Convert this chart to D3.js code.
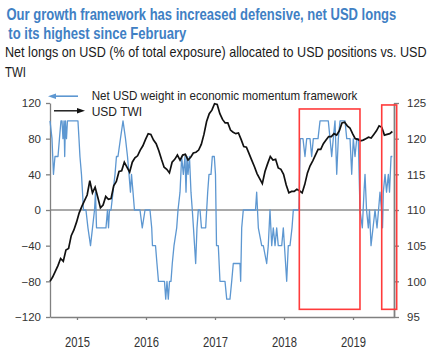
<!DOCTYPE html>
<html><head><meta charset="utf-8">
<script src="https://cdn.jsdelivr.net/npm/d3@7"></script>
<style>
body{margin:0;background:#fff;}
svg{display:block;font-family:"Liberation Sans",Arial,sans-serif;}
</style>
</head><body>
<svg id="c" width="434" height="355"></svg>
<script>
// ---- data ----
const yearTicks = [2015, 2016, 2017, 2018, 2019];
const leftTicks = [-120, -80, -40, 0, 40, 80, 120];
const rightTicks = [95, 100, 105, 110, 115, 120, 125];

const seriesNames = ["Net USD weight in economic momentum framework", "USD TWI"];

// Net USD weight (left axis), decimal-year time stamps
const netUsdTime = [
 2014.609,2014.638,2014.659,2014.681,2014.725,2014.746,2014.768,2014.783,2014.797,2014.812,
 2014.822,2014.833,2014.848,2014.862,2015.014,2015.029,2015.043,2015.065,2015.080,2015.094,
 2015.130,2015.159,2015.196,2015.225,2015.254,2015.268,2015.283,2015.420,2015.442,2015.457,
 2015.471,2015.493,2015.522,2015.551,2015.572,2015.594,2015.630,2015.667,2015.703,2015.732,
 2015.754,2015.775,2015.790,2015.812,2015.833,2015.913,2015.946,2015.986,2016.058,2016.083,
 2016.094,2016.138,2016.159,2016.181,2016.268,2016.286,2016.304,2016.323,2016.341,2016.362,
 2016.381,2016.406,2016.445,2016.464,2016.493,2016.517,2016.541,2016.565,2016.580,2016.594,
 2016.609,2016.630,2016.652,2016.671,2016.688,2016.720,2016.739,2016.758,2016.783,2016.804,
 2016.865,2016.894,2016.913,2016.942,2016.961,2016.990,2017.007,2017.022,2017.048,2017.072,
 2017.145,2017.170,2017.217,2017.242,2017.265,2017.362,2017.372,2017.387,2017.410,2017.587,
 2017.604,2017.616,2017.628,2017.677,2017.700,2017.749,2017.772,2017.797,2017.822,2017.845,
 2017.870,2017.894,2017.917,2017.967,2017.990,2018.039,2018.062,2018.087,2018.116,2018.135,
 2018.217,2018.236,2018.275,2018.304,2018.329,2018.377,2018.401,2018.425,2018.493,2018.522,
 2018.642,2018.667,2018.691,2018.714,2018.739,2018.764,2018.787,2018.812,2018.884,2018.909,
 2018.957,2018.981,2019.004,2019.029,2019.054,2019.077,2019.101,2019.135,2019.159,2019.174,
 2019.196,2019.222,2019.239,2019.261,2019.290,2019.319,2019.348,2019.370,2019.391,2019.413,
 2019.428,2019.439,2019.464,2019.486,2019.512,2019.529,2019.551,2019.570
];
const netUsdValue = [
 100,80,40,60,60,80,100,100,80,100,
 60,100,80,100,100,80,60,40,20,0,
 0,-20,-40,-20,0,20,-20,-20,0,-20,
 0,0,20,40,60,60,80,100,80,60,
 40,20,40,20,0,0,-20,0,0,-20,
 -40,-40,-60,-80,-80,-100,-80,-100,-80,-80,
 -60,-40,-20,0,20,60,40,60,20,60,
 40,60,20,0,-20,-60,-20,0,0,-20,
 -20,20,40,40,60,60,40,-40,-40,-80,
 -80,-100,-100,-80,-60,-60,-80,-20,0,0,
 20,0,-20,-40,-40,-60,-40,0,-40,-20,
 -40,-20,-40,-40,-20,-80,-40,-40,-20,0,
 0,80,80,60,80,80,60,80,80,100,
 100,80,60,80,100,40,80,100,100,80,
 80,40,80,60,80,80,0,-20,20,40,
 0,-20,0,-40,-20,0,-20,0,20,0,
 -20,20,40,20,40,20,60,60
];

// USD TWI (right axis), sampled every two weeks from twiStart
const twiStart = 2014.609;
const twiStep = 1 / 26;
const twiValue = [
 100.0,100.6,101.4,102.2,103.2,102.8,104.4,104.6,106.4,107.2,
 108.3,109.6,110.5,111.3,112.1,114.1,112.4,113.2,111.8,110.3,
 110.7,111.9,111.5,111.6,113.4,114.0,115.4,115.5,116.7,116.0,
 115.3,116.7,117.3,117.6,118.4,119.0,119.9,120.7,120.6,119.8,
 119.3,118.3,117.1,116.0,115.7,115.2,116.7,117.1,117.7,117.0,
 117.7,117.8,117.0,117.4,118.0,118.1,118.4,119.2,120.6,122.4,
 123.5,124.0,124.9,124.8,123.5,122.7,122.2,122.2,121.2,120.9,
 120.7,120.8,119.9,118.9,118.8,117.9,117.0,116.1,115.1,114.4,
 113.7,115.4,116.5,117.5,117.0,117.1,115.9,115.7,115.0,113.5,
 112.4,112.6,112.6,112.9,112.7,112.4,113.6,115.2,116.2,116.9,
 117.7,118.5,118.5,119.3,119.8,120.3,120.3,120.7,120.5,121.1,
 122.2,122.3,121.8,121.5,120.7,120.0,119.9,119.7,119.8,120.0,
 120.2,120.1,120.6,121.1,121.8,121.6,120.5,120.6,120.7,121.0
];

// Highlight boxes (time range, left-axis value range)
const boxStart = [2018.222, 2019.416];
const boxEnd = [2019.101, 2019.633];
const boxTop = [113.3, 117.8];
const boxBottom = [-111.4, -111.4];

const zeroLineEnd = 2019.52;

// ---- drawing ----
const svg = d3.select("#c");
const BLUE = "#5d97d1";
const AXIS = "#808080";

const x = d3.scaleLinear().domain([2014.609, 2019.594]).range([50, 394]);
const yL = d3.scaleLinear().domain([-120, 120]).range([317, 103]);
const yR = d3.scaleLinear().domain([95, 125]).range([317, 103]);

// compress a text horizontally to a target width (the reference font is condensed)
function fitText(t, px, py, width) {
  const w = t.node().getComputedTextLength();
  const s = Math.min(1, width / w);
  t.attr("x", 0).attr("y", 0).attr("transform", `translate(${px},${py}) scale(${s},1)`);
}

// titles
const t1 = svg.append("text").attr("font-size", 16).attr("font-weight", "bold").attr("fill", "#4080c4")
  .text("Our growth framework has increased defensive, net USD longs");
fitText(t1, 6.5, 19.8, 390);
const t2 = svg.append("text").attr("font-size", 16).attr("font-weight", "bold").attr("fill", "#4080c4")
  .text("to its highest since February");
fitText(t2, 8.3, 38.5, 178);
const s1 = svg.append("text").attr("font-size", 14).attr("fill", "#1a1a1a")
  .text("Net longs on USD (% of total exposure) allocated to USD positions vs. USD");
fitText(s1, 5, 56.7, 422);
const s2 = svg.append("text").attr("font-size", 14).attr("fill", "#1a1a1a").text("TWI");
fitText(s2, 5, 76.7, 21);

// zero line
svg.append("line")
  .attr("x1", x(x.domain()[0])).attr("x2", x(zeroLineEnd))
  .attr("y1", yL(0)).attr("y2", yL(0))
  .attr("stroke", "#555").attr("stroke-width", 1.2);

// axes
function styleAxis(g) {
  g.select(".domain").attr("stroke", AXIS).attr("stroke-width", 1.3);
  g.selectAll(".tick line").attr("stroke", AXIS).attr("stroke-width", 1.3);
  g.selectAll("text").attr("fill", "#333").attr("font-family", '"Liberation Sans",Arial,sans-serif');
}
const gl = svg.append("g").attr("transform", `translate(${x.range()[0]},0)`)
  .call(d3.axisLeft(yL).tickValues(leftTicks).tickSize(4).tickSizeOuter(0).tickPadding(5));
styleAxis(gl); gl.selectAll("text").attr("font-size", 11.5);

const gr = svg.append("g").attr("transform", `translate(${x.range()[1]},0)`)
  .call(d3.axisRight(yR).tickValues(rightTicks).tickSize(5).tickSizeOuter(0).tickPadding(8));
styleAxis(gr); gr.selectAll("text").attr("font-size", 11.5);
gr.select(".domain").attr("stroke-width", 1.8);

const gb = svg.append("g").attr("transform", `translate(0,${yL.range()[0]})`)
  .call(d3.axisBottom(x).tickValues(yearTicks).tickFormat(d3.format("d")).tickSize(3).tickSizeOuter(0));
styleAxis(gb);
gb.selectAll(".tick text").each(function() {
  const t = d3.select(this).attr("font-size", 15).attr("dy", "0").attr("text-anchor", "middle");
  const w = this.getComputedTextLength();
  t.attr("x", 0).attr("y", 0).attr("transform", `translate(0,29.5) scale(${25 / w},1)`);
});

// blue series
const blueData = netUsdTime.map((t, i) => ({t, v: netUsdValue[i]}));
svg.append("path").datum(blueData)
  .attr("fill", "none").attr("stroke", BLUE).attr("stroke-width", 1.3)
  .attr("stroke-linejoin", "round")
  .attr("d", d3.line().x(d => x(d.t)).y(d => yL(d.v)));

// black series
const twiData = twiValue.map((v, i) => ({t: twiStart + i * twiStep, v}));
svg.append("path").datum(twiData)
  .attr("fill", "none").attr("stroke", "#111").attr("stroke-width", 1.7)
  .attr("stroke-linejoin", "miter")
  .attr("d", d3.line().x(d => x(d.t)).y(d => yR(d.v)));

// highlight boxes
boxStart.forEach((s, i) => {
  svg.append("rect")
    .attr("x", x(s)).attr("y", yL(boxTop[i]))
    .attr("width", x(boxEnd[i]) - x(s))
    .attr("height", yL(boxBottom[i]) - yL(boxTop[i]))
    .attr("fill", "none").attr("stroke", "#ff3b3b").attr("stroke-width", 1.6);
});

// legend
const lg = svg.append("g");
lg.append("line").attr("x1", 52).attr("x2", 78).attr("y1", 96.2).attr("y2", 96.2)
  .attr("stroke", BLUE).attr("stroke-width", 1.6);
lg.append("path").attr("d", "M48,96.2 L56,93.4 L56,99 Z").attr("fill", BLUE);
lg.append("line").attr("x1", 54).attr("x2", 80).attr("y1", 110.8).attr("y2", 110.8)
  .attr("stroke", "#111").attr("stroke-width", 1.4);
lg.append("path").attr("d", "M85,110.8 L77,108 L77,113.6 Z").attr("fill", "#111");
const lt1 = lg.append("text").attr("font-size", 12).attr("fill", "#222").text(seriesNames[0]);
fitText(lt1, 91.7, 99.8, 266);
lg.append("text").attr("x", 91.7).attr("y", 115.8).attr("font-size", 12).attr("fill", "#222")
  .text(seriesNames[1]);
</script>
</body></html>
